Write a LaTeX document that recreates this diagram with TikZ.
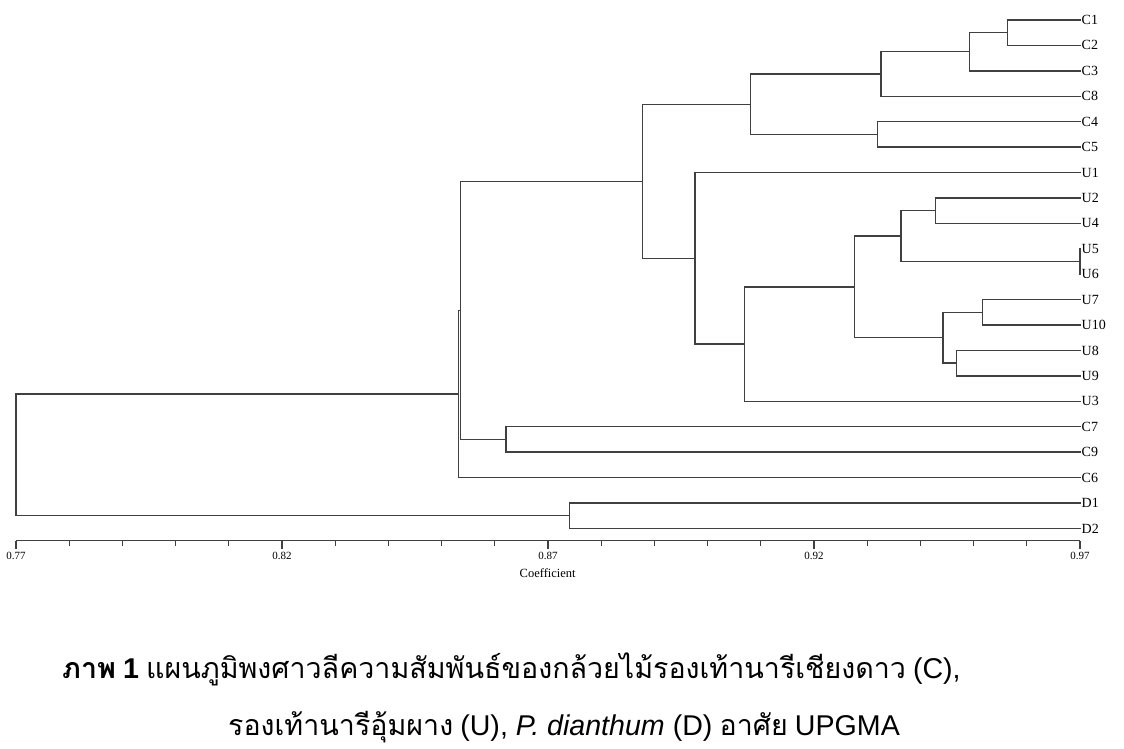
\documentclass[tikz,border=0pt]{standalone}
\usepackage{fontspec}
\setmainfont{Liberation Serif}
\newfontfamily\thai[Script=Thai]{Loma}
\newfontfamily\arial{Liberation Sans}
\begin{document}
\begin{tikzpicture}[x=1pt,y=-1pt,
  br/.style={draw=black!75,line width=1.4pt,line cap=rect},
  leaf/.style={anchor=west,inner sep=1.5pt,font=\fontsize{14}{14}\selectfont},
  axtick/.style={draw=black!75,line width=1.3pt},
  ticklab/.style={font=\fontsize{11}{11}\selectfont,inner sep=0pt},
  captext/.style={anchor=base west,inner sep=0pt,font=\fontsize{28.6}{28.6}\selectfont}]
\useasboundingbox (0,0) rectangle (1124,748);
% leaves
\foreach \n [count=\i from 0] in {C1,C2,C3,C8,C4,C5,U1,U2,U4,U5,U6,U7,U10,U8,U9,U3,C7,C9,C6,D1,D2}
  \node[leaf] (\n) at (1080,{20+25.42*\i}) {\n};
% internal nodes
\coordinate (n12) at (1007.7,{20+25.42*0.5});
\coordinate (n123) at (969.3,{20+25.42*1.25});
\coordinate (n1238) at (881,{20+25.42*2.125});
\coordinate (n45) at (877.3,{20+25.42*4.5});
\coordinate (nC) at (750.7,{20+25.42*3.3125});
\coordinate (n24) at (935.5,{20+25.42*7.5});
\coordinate (n56) at (1080,{20+25.42*9.5});
\coordinate (n2456) at (901,{20+25.42*8.5});
\coordinate (n710) at (982.3,{20+25.42*11.5});
\coordinate (n89) at (956.7,{20+25.42*13.5});
\coordinate (n71089) at (943,{20+25.42*12.5});
\coordinate (nU29) at (854.5,{20+25.42*10.5});
\coordinate (nU293) at (744.7,{20+25.42*12.75});
\coordinate (nU) at (695,{20+25.42*9.375});
\coordinate (nCU) at (642.7,{20+25.42*6.34375});
\coordinate (n79) at (506,{20+25.42*16.5});
\coordinate (nCU79) at (460.3,{20+25.42*11.421875});
\coordinate (nCU796) at (458.7,{20+25.42*14.7109});
\coordinate (nD) at (569.3,{20+25.42*19.5});
\coordinate (root) at (16,{20+25.42*17.1055});
% branches
\draw[br] (n12) |- (C1.west); \draw[br] (n12) |- (C2.west);
\draw[br] (n123) |- (n12); \draw[br] (n123) |- (C3.west);
\draw[br] (n1238) |- (n123); \draw[br] (n1238) |- (C8.west);
\draw[br] (n45) |- (C4.west); \draw[br] (n45) |- (C5.west);
\draw[br] (nC) |- (n1238); \draw[br] (nC) |- (n45);
\draw[br] (n24) |- (U2.west); \draw[br] (n24) |- (U4.west);
\draw[br] (U5.west) -- (U6.west);
\draw[br] (n2456) |- (n24); \draw[br] (n2456) |- (n56);
\draw[br] (n710) |- (U7.west); \draw[br] (n710) |- (U10.west);
\draw[br] (n89) |- (U8.west); \draw[br] (n89) |- (U9.west);
\draw[br] (n71089) |- (n710); \draw[br] (n71089) |- (n89);
\draw[br] (nU29) |- (n2456); \draw[br] (nU29) |- (n71089);
\draw[br] (nU293) |- (nU29); \draw[br] (nU293) |- (U3.west);
\draw[br] (nU) |- (U1.west); \draw[br] (nU) |- (nU293);
\draw[br] (nCU) |- (nC); \draw[br] (nCU) |- (nU);
\draw[br] (n79) |- (C7.west); \draw[br] (n79) |- (C9.west);
\draw[br] (nCU79) |- (nCU); \draw[br] (nCU79) |- (n79);
\draw[br] (nCU796) |- (nCU79); \draw[br] (nCU796) |- (C6.west);
\draw[br] (nD) |- (D1.west); \draw[br] (nD) |- (D2.west);
\draw[br] (root) |- (nCU796); \draw[br] (root) |- (nD);
% axis
\coordinate (ax0) at (16,540.7);
\coordinate (ax1) at (1080,540.7);
\draw[axtick] (ax0) -- (ax1);
\foreach \k in {0,...,20}{
  \pgfmathsetmacro{\xx}{16+53.2*\k}
  \pgfmathtruncatemacro{\mm}{mod(\k,5)}
  \ifnum\mm=0
    \draw[axtick] (\xx,540.7) -- (\xx,549);
  \else
    \draw[axtick] (\xx,540.7) -- (\xx,545.5);
  \fi
}
\foreach \v [count=\j from 0] in {0.77,0.82,0.87,0.92,0.97}
  \node[ticklab] (t\j) at ({16+266*\j},556) {\v};
\node[font=\fontsize{12.5}{12.5}\selectfont,inner sep=0pt] (coef) at (547.7,572.7) {Coefficient};
% caption
\node[captext] (cap1) at (62,678) {{\thai\bfseries ภาพ} {\arial\bfseries 1} {\thai แผนภูมิพงศาวลีความสัมพันธ์ของกล้วยไม้รองเท้านารีเชียงดาว} {\arial (C),}};
\node[captext] (cap2) at (228,735) {{\thai รองเท้านารีอุ้มผาง} {\arial (U), \itshape P. dianthum \upshape (D)} {\thai อาศัย} {\arial UPGMA}};
\end{tikzpicture}
\end{document}
